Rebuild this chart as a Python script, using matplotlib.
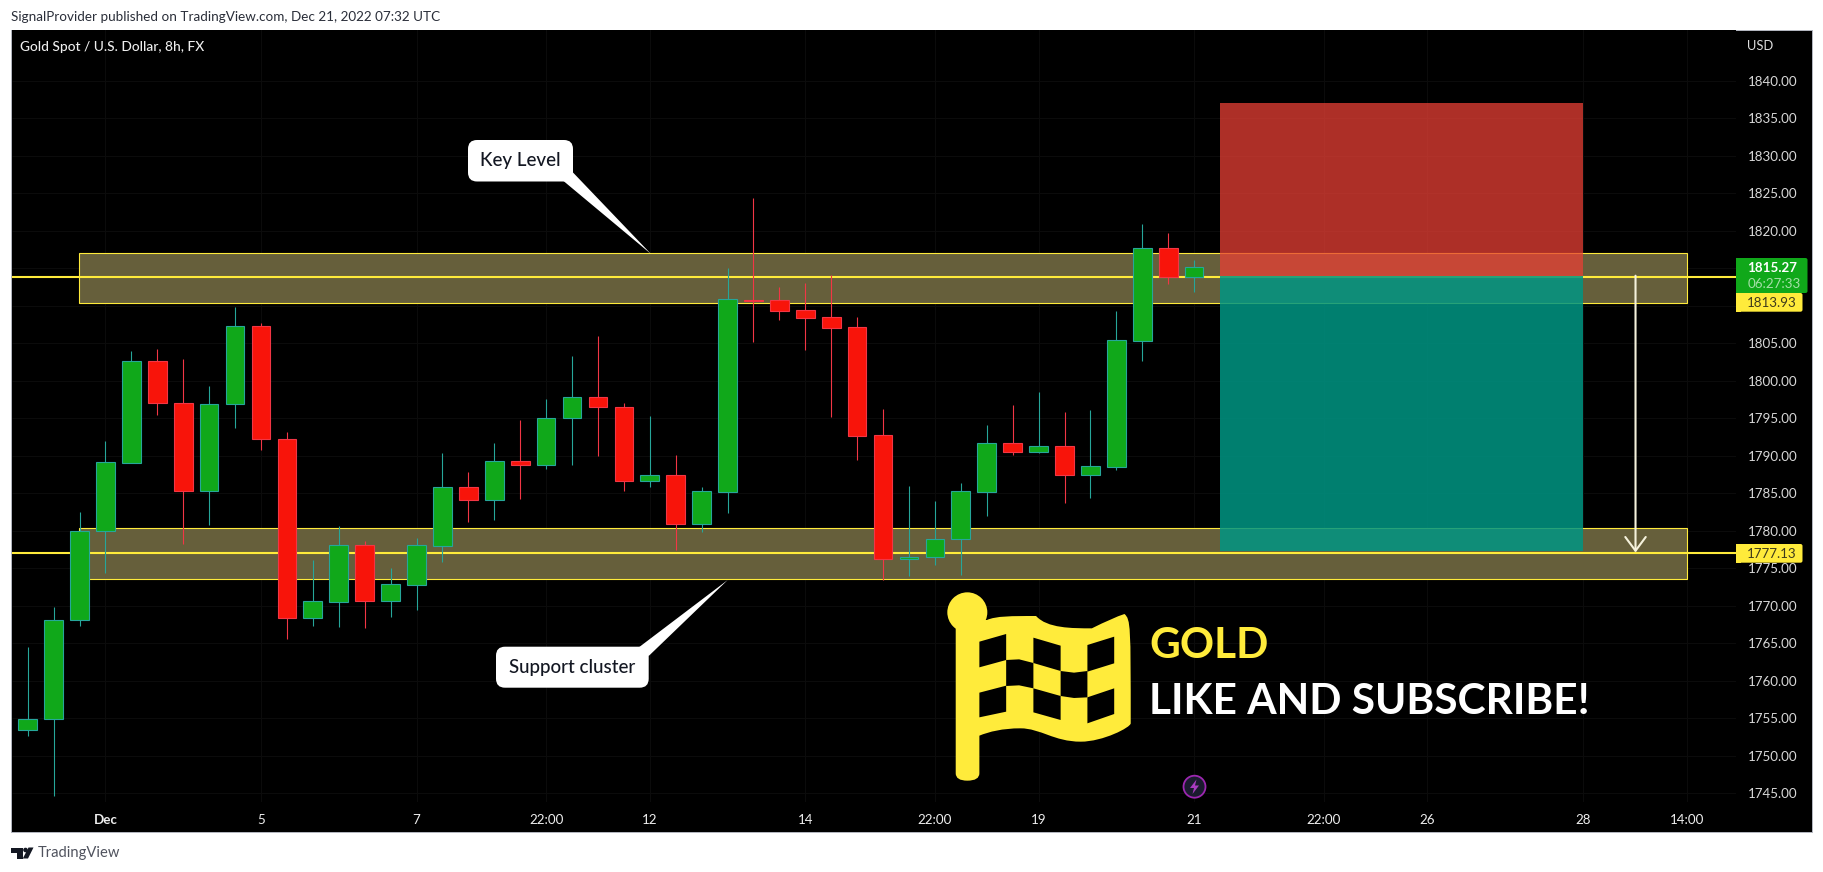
import matplotlib
matplotlib.use("Agg")
import matplotlib.pyplot as plt
from matplotlib.patches import Rectangle, FancyBboxPatch, Polygon, Circle, PathPatch
from matplotlib.path import Path
from matplotlib.transforms import Affine2D

W, H = 1823, 872
UI = ["Lato", "DejaVu Sans"]
plt.rcParams["font.family"] = UI

opens = [1753.51,1754.89,1768.09,1779.95,1789.10,1802.62,1797.02,1785.37,1796.89,1807.33,
         1792.31,1768.44,1770.58,1778.09,1770.71,1772.84,1778.04,1785.82,1784.17,1789.29,
         1788.84,1795.02,1797.82,1796.49,1786.71,1787.42,1780.98,1785.24,1810.80,1810.76,
         1809.42,1808.49,1807.16,1792.76,1776.22,1776.49,1778.89,1785.24,1791.69,1790.58,
         1791.29,1787.51,1788.58,1805.38,1817.69,1813.91]
closes = [1754.89,1768.09,1779.95,1789.15,1802.62,1797.02,1785.37,1796.89,1807.33,1792.31,
          1768.44,1770.62,1778.09,1770.71,1772.89,1778.09,1785.82,1784.17,1789.29,1788.84,
          1795.02,1797.82,1796.49,1786.71,1787.42,1780.98,1785.29,1810.89,1810.70,1809.38,
          1808.44,1807.11,1792.71,1776.22,1776.49,1778.89,1785.29,1791.69,1790.58,1791.29,
          1787.51,1788.62,1805.42,1817.69,1813.91,1815.16]
highs = [1764.53,1769.82,1782.53,1792.00,1804.00,1804.27,1802.93,1799.33,1809.87,1807.78,
         1793.20,1776.13,1780.66,1778.66,1775.06,1779.06,1790.35,1787.82,1791.69,1794.80,
         1797.60,1803.33,1806.00,1797.07,1795.33,1790.13,1785.87,1815.07,1824.40,1812.53,
         1813.07,1814.09,1808.49,1796.27,1786.00,1784.00,1786.40,1794.13,1796.80,1798.53,
         1795.87,1796.13,1809.33,1820.93,1819.73,1816.13]
lows = [1752.66,1744.70,1767.33,1774.44,1789.10,1795.47,1778.30,1780.80,1793.73,1790.80,
        1765.60,1767.33,1767.20,1767.06,1768.53,1769.46,1775.86,1781.20,1781.46,1784.27,
        1788.27,1788.80,1790.04,1785.38,1785.91,1777.51,1779.91,1782.44,1805.24,1808.13,
        1804.18,1795.24,1789.47,1773.47,1774.00,1775.47,1774.13,1782.00,1790.13,1790.44,
        1783.78,1784.40,1788.13,1802.67,1812.93,1811.91]
# 1815 and 1810 sit under the price badges in the reference, so they are not shown
price_ticks = [1840,1835,1830,1825,1820,1805,1800,1795,1790,1785,1780,1775,1770,1765,1760,1755,1750,1745]
grid_prices = [1840,1835,1830,1825,1820,1815,1810,1805,1800,1795,1790,1785,1780,1775,1770,1765,1760,1755,1750,1745]
time_pos = [3,9,15,20,24,30,35,39,45,50,54,60,64]
time_labels = ["Dec","5","7","22:00","12","14","22:00","19","21","22:00","26","28","14:00"]
time_bold = ["Dec"]
key_band = (1810.36, 1817.07)
support_band = (1773.56, 1780.36)
key_line = 1813.93
support_line = 1777.13
last_price = 1815.27
stop_level = 1837.03
entry_level = 1814.04
target_level = 1777.33

fig = plt.figure(figsize=(W/100, H/100), dpi=100, facecolor="white")
px = Affine2D().scale(1, -1).translate(0, H)  # y down pixel coordinates


def A(x0, y0, x1, y1):
    return [x0/W, 1-y1/H, (x1-x0)/W, (y1-y0)/H]

LW = 0.72
# outer frame
fig.add_artist(Rectangle((11, 30), 1801, 802, transform=px, fc="black", ec="#b2b5be", lw=LW, zorder=0))

ax = fig.add_axes(A(11.5, 30.5, 1736, 802), facecolor="black", zorder=1)
XPX0, XSTEP = 27.7, 25.92
ax.set_xlim((11.5-XPX0)/XSTEP, (1736-XPX0)/XSTEP)
ax.set_ylim(1820-(802-231)/7.5, 1820+(231-30.5)/7.5)
for s in ax.spines.values():
    s.set_visible(False)
ax.yaxis.tick_right()
ax.set_yticks(price_ticks)
ax.set_yticklabels([f"{p:.2f}" for p in price_ticks], fontsize=9.6, color="#d8d8d8")
ax.tick_params(axis="y", length=0, pad=8.5)
ax.set_xticks(time_pos)
ax.set_xticklabels(time_labels, fontsize=9.6, color="#eeeeee")
for lab in ax.get_xticklabels():
    if lab.get_text() in time_bold:
        lab.set_fontweight("bold")
ax.tick_params(axis="x", length=0, pad=8.5)
ax.grid(True, axis="x", color="#0b0b0b", lw=LW, zorder=0)
ax.hlines(grid_prices, *ax.get_xlim(), color="#0b0b0b", lw=LW, zorder=0.5)
ax.set_axisbelow(True)

# zones
FILL = (102/255, 95/255, 59/255)
YEL = "#ffeb3b"
for lo, hi in (key_band, support_band):
    ax.add_patch(Rectangle((1.97, lo), 62.03, hi-lo, fc=FILL, ec=YEL, lw=LW*1.1, zorder=2))
for lv in (key_line, support_line):
    ax.axhline(lv, color=YEL, lw=1.5, zorder=2.5)
# position tool
ax.add_patch(Rectangle((46, entry_level), 14, stop_level-entry_level, fc=(232/255, 64/255, 53/255), alpha=0.75, lw=0, zorder=3))
ax.add_patch(Rectangle((46, target_level), 14, entry_level-target_level, fc=(0, 150/255, 132/255), alpha=0.85, lw=0, zorder=3))
# arrow
ax.annotate("", xy=(62.03, support_line), xytext=(62.03, entry_level), zorder=4,
            arrowprops=dict(arrowstyle="->,head_length=0.62,head_width=0.46", color="#f5f2dc", lw=1.5, shrinkA=0, shrinkB=0, mutation_scale=16))

# candles
GREEN, TEAL, RED, REDE = "#10a81a", "#26a69a", "#f8140a", "#f23645"
xs = list(range(len(opens)))
for i in xs:
    up = closes[i] >= opens[i]
    ax.vlines(i, lows[i], highs[i], color=TEAL if up else REDE, lw=LW*1.1, zorder=5)
up_x = [i for i in xs if closes[i] >= opens[i]]
dn_x = [i for i in xs if closes[i] < opens[i]]
ax.bar(up_x, [closes[i]-opens[i] for i in up_x], bottom=[opens[i] for i in up_x], width=0.72, color=GREEN, edgecolor=TEAL, lw=LW*1.1, zorder=6)
ax.bar(dn_x, [opens[i]-closes[i] for i in dn_x], bottom=[closes[i] for i in dn_x], width=0.72, color=RED, edgecolor=REDE, lw=LW*1.1, zorder=6)

# overlays on pixel coordinates
top = 10


def add(p):
    p.set_transform(px)
    p.set_zorder(top)
    p.set_clip_on(False)
    fig.add_artist(p)
    return p


def ftext(x, y, s, **kw):
    kw.setdefault("va", "center")
    kw.setdefault("ha", "left")
    t = fig.text(x/W, 1-y/H, s, zorder=top+1, **kw)
    return t

# header / footer
ftext(11, 17, "SignalProvider published on TradingView.com, Dec 21, 2022 07:32 UTC", fontsize=9.7, color="#2a2e39")
ftext(20, 47, "Gold Spot / U.S. Dollar, 8h, FX", fontsize=9.9, color="#eeeeee", fontweight="medium")
ftext(1747, 46, "USD", fontsize=9.3, color="#e0e0e0")
ftext(38, 853, "TradingView", fontsize=10.6, color="#50535e")
DK = "#131722"
add(Polygon([(11, 847.5), (22.5, 847.5), (22.5, 858.5), (17, 858.5), (17, 852.5), (11, 852.5)], fc=DK, lw=0))
add(Circle((25.5, 850), 2.3, fc=DK, lw=0))
add(Polygon([(28.5, 847.5), (33.5, 847.5), (28, 858.5), (22.8, 858.5)], fc=DK, lw=0))

# price labels
ROUND = "round,pad=0,rounding_size=2"
add(FancyBboxPatch((1736, 258), 71.5, 35, boxstyle=ROUND, fc=GREEN, lw=0))
add(Rectangle((1736, 258), 5, 35, fc=GREEN, lw=0))
ftext(1772.5, 268, f"{last_price:.2f}", ha="center", fontsize=9.6, color="white", fontweight="bold")
ftext(1774.5, 284, "06:27:33", ha="center", fontsize=9.6, color="#a5dfa8")
for yt, val in ((293, key_line), (544, support_line)):
    add(FancyBboxPatch((1736, yt), 66.5, 18.7, boxstyle=ROUND, fc=YEL, lw=0))
    add(Rectangle((1736, yt), 5, 18.7, fc=YEL, lw=0))
    ftext(1772, yt+9.8, f"{val:.2f}", ha="center", fontsize=9.6, color="#3d3a1c")


def callout(box, tail, label):
    x0, y0, x1, y1 = box
    add(Polygon(tail, fc="white", lw=0))
    add(FancyBboxPatch((x0, y0), x1-x0, y1-y0, boxstyle="round,pad=0,rounding_size=9", fc="white", lw=0))
    ftext((x0+x1)/2, (y0+y1)/2, label, ha="center", fontsize=13.5, color="#131722", fontweight="medium")

callout((468, 140, 573, 181.5), [(563.5, 181), (573, 172.5), (651, 254)], "Key Level")
callout((496, 646.7, 648.7, 687.7), [(639.3, 647), (648.7, 656), (727.7, 580)], "Support cluster")

# flag icon
def F(x, y):
    return (920 + x/2.24, 570 + y/3)

C3, C4, M, L, Z = Path.CURVE3, Path.CURVE4, Path.MOVETO, Path.LINETO, Path.CLOSEPOLY
pts = [F(80, 150), F(133, 150), F(150, 150),
       F(170, 138), F(205, 138), F(260, 138), F(285, 175), F(340, 175), F(385, 175), F(415, 155), F(440, 140),
       F(458, 132), F(472, 148), F(472, 170), F(472, 460),
       F(472, 472), F(410, 515), F(360, 515), F(300, 515), F(270, 475), F(225, 475), F(185, 475), F(155, 485), F(133, 497),
       F(133, 610), F(133, 632), F(106, 632), F(80, 632), F(80, 610), F(80, 150)]
codes = [M, L, L,
         C4, C4, C4, C4, C4, C4, C4, C4,
         C4, C4, C4, L,
         C4, C4, C4, C4, C4, C4, C4, C4, C4,
         L, C3, C3, C3, C3, L]
add(PathPatch(Path(pts, codes), fc=YEL, lw=0))
add(Circle(F(106, 127), 20, fc=YEL, lw=0))
squares = [
    [(133,215),(193,192),(193,270),(133,292)],
    [(193,270),(222,268),(254,279),(254,355),(222,346),(193,348)],
    [(254,203),(315,227),(315,303),(254,279)],
    [(315,303),(345,308),(375,303),(375,382),(345,384),(315,378)],
    [(375,225),(435,200),(435,280),(375,305)],
    [(133,368),(193,347),(193,425),(133,442)],
    [(254,355),(315,378),(315,450),(254,427)],
    [(375,382),(435,355),(435,432),(375,460)],
]
for sq in squares:
    add(Polygon([F(*p) for p in sq], fc="black", lw=0))

ftext(1149, 646, "GOLD", fontsize=30.5, color=YEL, fontweight="bold")
ftext(1149, 702, "LIKE AND SUBSCRIBE!", fontsize=30.5, color="white", fontweight="bold")

# bolt badge
add(Circle((1194.5, 786.7), 11, fc="#1a1b2e", ec="#9c27b0", lw=1.3))
add(Polygon([(1196.5, 779.5), (1190, 788), (1194, 788), (1192.5, 794), (1199, 785.5), (1195, 785.5)], fc="#a93cc0", lw=0))

fig.savefig("out.png", dpi=100, facecolor="white")
